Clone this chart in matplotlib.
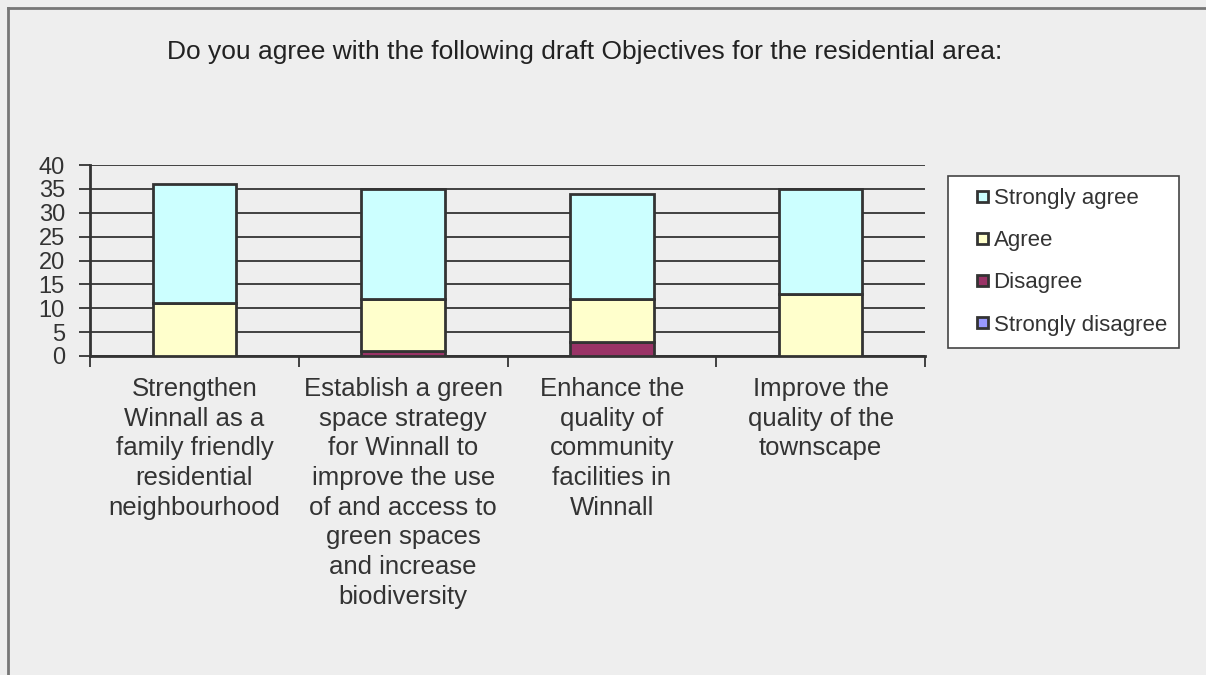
import numpy as np
import matplotlib.pyplot as plt
from matplotlib.lines import Line2D
from matplotlib.patches import Patch, Rectangle
from matplotlib.legend_handler import HandlerPatch

plt.rcParams['font.family'] = ['Liberation Sans', 'DejaVu Sans']

categories = [
    "Strengthen\nWinnall as a\nfamily friendly\nresidential\nneighbourhood",
    "Establish a green\nspace strategy\nfor Winnall to\nimprove the use\nof and access to\ngreen spaces\nand increase\nbiodiversity",
    "Enhance the\nquality of\ncommunity\nfacilities in\nWinnall",
    "Improve the\nquality of the\ntownscape",
]
strongly_disagree = [0, 0, 0, 0]
disagree = [0, 1, 3, 0]
agree = [11, 11, 9, 13]
strongly_agree = [25, 23, 22, 22]

series = [
    ("Strongly disagree", strongly_disagree, "#9999FF"),
    ("Disagree", disagree, "#993366"),
    ("Agree", agree, "#FFFFCC"),
    ("Strongly agree", strongly_agree, "#CCFFFF"),
]

bg = "#EEEEEE"
ink = "#333333"

fig = plt.figure(figsize=(12.06, 6.75), dpi=100, facecolor=bg)
ax = fig.add_axes([90 / 1206, 1 - 356 / 675, 835 / 1206, 191 / 675])
ax.set_facecolor(bg)

# frame lines along the top and left of the chart area
W, H = 1206, 675
fig.add_artist(Line2D([8 / W, 8 / W], [0, 1 - 8 / H], color="#777777", lw=2, transform=fig.transFigure))
fig.add_artist(Line2D([8 / W, 1], [1 - 8 / H, 1 - 8 / H], color="#777777", lw=2, transform=fig.transFigure))

x = np.arange(len(categories))
bottom = np.zeros(len(categories))
for name, vals, color in series:
    vals = np.array(vals, dtype=float)
    ax.bar(x, vals, width=0.4, bottom=bottom, color=color, edgecolor=ink,
           linewidth=2, zorder=3)
    bottom += vals

ax.set_xlim(-0.5, len(categories) - 0.5)
ax.set_ylim(0, 40)
ax.set_yticks(range(0, 41, 5))
ax.yaxis.grid(True, color=ink, linewidth=1.3, zorder=0)
ax.tick_params(axis="y", length=8, width=1.3, color=ink, labelsize=17,
               labelcolor=ink, pad=10)

# category ticks sit on the boundaries between groups
ax.set_xticks(np.arange(-0.5, len(categories)), minor=False)
ax.set_xticklabels([])
ax.set_xticks(x, minor=True)
ax.set_xticklabels(categories, minor=True, fontsize=18.5, color=ink, linespacing=1.3)
ax.tick_params(axis="x", which="major", length=8, width=1.3, color=ink)
ax.tick_params(axis="x", which="minor", length=0, pad=15)

for s in ["top", "right"]:
    ax.spines[s].set_visible(False)
for s in ["left", "bottom"]:
    ax.spines[s].set_color(ink)
    ax.spines[s].set_linewidth(2)

fig.text(585 / W, 1 - 52 / H,
         "Do you agree with the following draft Objectives for the residential area:",
         ha="center", va="center", fontsize=19, color="#222222")


def small_square(legend, orig_handle, xdescent, ydescent, width, height, fontsize):
    side = 0.5 * fontsize
    return Rectangle((width - side - xdescent, (height - side) / 2 - ydescent), side, side)


handles = [Patch(facecolor=c, edgecolor=ink, linewidth=2, label=n) for n, _, c in reversed(series)]
leg = fig.legend(handles=handles, loc="upper left",
                 bbox_to_anchor=(948 / W, 1 - 176 / H), fontsize=16,
                 frameon=True, fancybox=False, edgecolor="#444444", facecolor="white",
                 framealpha=1,
                 handler_map={Patch: HandlerPatch(patch_func=small_square)},
                 handlelength=1.25, handleheight=0.7, handletextpad=0.25,
                 labelspacing=0.95, borderpad=0.55, borderaxespad=0)
leg.get_frame().set_linewidth(1.2)
for t in leg.get_texts():
    t.set_color(ink)

fig.savefig("out.png", dpi=100, facecolor=bg)
